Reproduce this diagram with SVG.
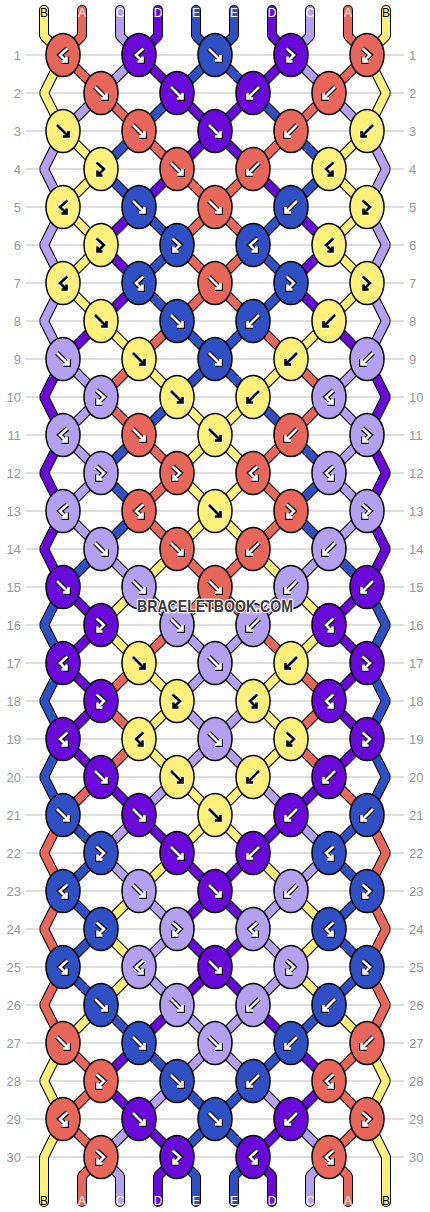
<svg xmlns="http://www.w3.org/2000/svg" xmlns:xlink="http://www.w3.org/1999/xlink" width="430" height="1212" viewBox="0 0 430 1212">
<style>
.gl{stroke:#bdbdbd;stroke-width:1}
.rl{font-family:"Liberation Sans",Arial,sans-serif;font-size:13px;fill:#999}
.so{fill:none;stroke:#000;stroke-width:10;stroke-linejoin:bevel;stroke-linecap:round}
.si{fill:none;stroke-width:8;stroke-linejoin:bevel;stroke-linecap:round}
.sy{stroke:#FFF07A}.sr{stroke:#E8665A}.sl{stroke:#B4A0F0}.sv{stroke:#6A08DC}.sb{stroke:#2E50C4}
ellipse{stroke:#000;stroke-width:1.5}
.fy{fill:#FFF07A}.fr{fill:#E8665A}.fl{fill:#B4A0F0}.fv{fill:#6A08DC}.fb{fill:#2E50C4}
.ao{fill:none;stroke:#000;stroke-width:5;stroke-linejoin:miter}
.ai{fill:none;stroke:#fff;stroke-width:2.6;stroke-linejoin:miter}
.yo{fill:none;stroke:#fff;stroke-width:4.6;stroke-linejoin:miter}
.yi{fill:none;stroke:#000;stroke-width:2.6;stroke-linejoin:miter}
.el{font-family:"Liberation Sans",Arial,sans-serif;font-size:12px;text-anchor:middle;fill:#fff}
.wm{font-family:"Liberation Sans",Arial,sans-serif;font-weight:bold;font-size:17px;fill:#3a3a3a;stroke:#fff;stroke-width:2.5;paint-order:stroke;text-anchor:middle}
</style>
<defs>
<path id="gF" d="M-6,-6 L5.5,5.5 M0,5.5 H5.5 V0"/>
<path id="gB" d="M6,-6 L-5.5,5.5 M0,5.5 H-5.5 V0"/>
<path id="gFB" d="M-4.5,-6.5 L3,0 L-3.5,6.5 M-3.5,1.5 V6.5 H1.5"/>
<path id="gBF" d="M4.5,-6.5 L-3,0 L3.5,6.5 M3.5,1.5 V6.5 H-1.5"/>
<g id="aF"><use href="#gF" class="ao"/><use href="#gF" class="ai"/></g>
<g id="aB"><use href="#gB" class="ao"/><use href="#gB" class="ai"/></g>
<g id="aFB"><use href="#gFB" class="ao"/><use href="#gFB" class="ai"/></g>
<g id="aBF"><use href="#gBF" class="ao"/><use href="#gBF" class="ai"/></g>
<g id="yF"><use href="#gF" class="yo"/><use href="#gF" class="yi"/></g>
<g id="yB"><use href="#gB" class="yo"/><use href="#gB" class="yi"/></g>
<g id="yFB"><use href="#gFB" class="yo"/><use href="#gFB" class="yi"/></g>
<g id="yBF"><use href="#gBF" class="yo"/><use href="#gBF" class="yi"/></g>
<polyline id="p0" points="44,10 44,36 63,55 44,93 63,131 101,169 63,207 101,245 63,283 101,321 139,359 177,397 215,435 177,473 215,511 177,549 139,587 101,625 139,663 177,701 139,739 177,777 215,815 177,853 139,891 101,929 139,967 101,1005 63,1043 44,1081 63,1119 44,1157 44,1176 44,1202"/>
<polyline id="p9" points="386,10 386,36 367,55 386,93 367,131 329,169 367,207 329,245 367,283 329,321 291,359 253,397 215,435 253,473 215,511 253,549 291,587 329,625 291,663 253,701 291,739 253,777 215,815 253,853 291,891 329,929 291,967 329,1005 367,1043 386,1081 367,1119 386,1157 386,1176 386,1202"/>
<polyline id="p1" points="82,10 82,36 63,55 101,93 139,131 177,169 215,207 177,245 215,283 177,321 139,359 101,397 139,435 177,473 139,511 177,549 215,587 177,625 139,663 101,701 139,739 101,777 63,815 44,853 63,891 44,929 63,967 44,1005 63,1043 101,1081 63,1119 101,1157 82,1176 82,1202"/>
<polyline id="p8" points="348,10 348,36 367,55 329,93 291,131 253,169 215,207 253,245 215,283 253,321 291,359 329,397 291,435 253,473 291,511 253,549 215,587 253,625 291,663 329,701 291,739 329,777 367,815 386,853 367,891 386,929 367,967 386,1005 367,1043 329,1081 367,1119 329,1157 348,1176 348,1202"/>
<polyline id="p2" points="120,10 120,36 139,55 101,93 63,131 44,169 63,207 44,245 63,283 44,321 63,359 101,397 63,435 101,473 63,511 101,549 139,587 177,625 215,663 177,701 215,739 177,777 139,815 101,853 139,891 177,929 139,967 177,1005 215,1043 177,1081 139,1119 101,1157 120,1176 120,1202"/>
<polyline id="p7" points="310,10 310,36 291,55 329,93 367,131 386,169 367,207 386,245 367,283 386,321 367,359 329,397 367,435 329,473 367,511 329,549 291,587 253,625 215,663 253,701 215,739 253,777 291,815 329,853 291,891 253,929 291,967 253,1005 215,1043 253,1081 291,1119 329,1157 310,1176 310,1202"/>
<polyline id="p3" points="158,10 158,36 139,55 177,93 215,131 177,169 139,207 101,245 139,283 101,321 63,359 44,397 63,435 44,473 63,511 44,549 63,587 101,625 63,663 101,701 63,739 101,777 139,815 177,853 215,891 177,929 215,967 177,1005 139,1043 101,1081 139,1119 177,1157 158,1176 158,1202"/>
<polyline id="p6" points="272,10 272,36 291,55 253,93 215,131 253,169 291,207 329,245 291,283 329,321 367,359 386,397 367,435 386,473 367,511 386,549 367,587 329,625 367,663 329,701 367,739 329,777 291,815 253,853 215,891 253,929 215,967 253,1005 291,1043 329,1081 291,1119 253,1157 272,1176 272,1202"/>
<polyline id="p4" points="196,10 196,36 215,55 177,93 139,131 101,169 139,207 177,245 139,283 177,321 215,359 177,397 139,435 101,473 139,511 101,549 63,587 44,625 63,663 44,701 63,739 44,777 63,815 101,853 63,891 101,929 63,967 101,1005 139,1043 177,1081 215,1119 177,1157 196,1176 196,1202"/>
<polyline id="p5" points="234,10 234,36 215,55 253,93 291,131 329,169 291,207 253,245 291,283 253,321 215,359 253,397 291,435 329,473 291,511 329,549 367,587 386,625 367,663 386,701 367,739 386,777 367,815 329,853 367,891 329,929 367,967 329,1005 291,1043 253,1081 215,1119 253,1157 234,1176 234,1202"/>
</defs>
<rect width="430" height="1212" fill="#fff"/>
<g id="grid">
<line class="gl" x1="26" y1="55" x2="404" y2="55"/><line class="gl" x1="26" y1="93" x2="404" y2="93"/><line class="gl" x1="26" y1="131" x2="404" y2="131"/><line class="gl" x1="26" y1="169" x2="404" y2="169"/><line class="gl" x1="26" y1="207" x2="404" y2="207"/><line class="gl" x1="26" y1="245" x2="404" y2="245"/><line class="gl" x1="26" y1="283" x2="404" y2="283"/><line class="gl" x1="26" y1="321" x2="404" y2="321"/><line class="gl" x1="26" y1="359" x2="404" y2="359"/><line class="gl" x1="26" y1="397" x2="404" y2="397"/><line class="gl" x1="26" y1="435" x2="404" y2="435"/><line class="gl" x1="26" y1="473" x2="404" y2="473"/><line class="gl" x1="26" y1="511" x2="404" y2="511"/><line class="gl" x1="26" y1="549" x2="404" y2="549"/><line class="gl" x1="26" y1="587" x2="404" y2="587"/><line class="gl" x1="26" y1="625" x2="404" y2="625"/><line class="gl" x1="26" y1="663" x2="404" y2="663"/><line class="gl" x1="26" y1="701" x2="404" y2="701"/><line class="gl" x1="26" y1="739" x2="404" y2="739"/><line class="gl" x1="26" y1="777" x2="404" y2="777"/><line class="gl" x1="26" y1="815" x2="404" y2="815"/><line class="gl" x1="26" y1="853" x2="404" y2="853"/><line class="gl" x1="26" y1="891" x2="404" y2="891"/><line class="gl" x1="26" y1="929" x2="404" y2="929"/><line class="gl" x1="26" y1="967" x2="404" y2="967"/><line class="gl" x1="26" y1="1005" x2="404" y2="1005"/><line class="gl" x1="26" y1="1043" x2="404" y2="1043"/><line class="gl" x1="26" y1="1081" x2="404" y2="1081"/><line class="gl" x1="26" y1="1119" x2="404" y2="1119"/><line class="gl" x1="26" y1="1157" x2="404" y2="1157"/>
</g>
<g id="row-labels" class="rl">
<g text-anchor="end">
<text x="21" y="59.5">1</text><text x="21" y="97.5">2</text><text x="21" y="135.5">3</text><text x="21" y="173.5">4</text><text x="21" y="211.5">5</text><text x="21" y="249.5">6</text><text x="21" y="287.5">7</text><text x="21" y="325.5">8</text><text x="21" y="363.5">9</text><text x="21" y="401.5">10</text><text x="21" y="439.5">11</text><text x="21" y="477.5">12</text><text x="21" y="515.5">13</text><text x="21" y="553.5">14</text><text x="21" y="591.5">15</text><text x="21" y="629.5">16</text><text x="21" y="667.5">17</text><text x="21" y="705.5">18</text><text x="21" y="743.5">19</text><text x="21" y="781.5">20</text><text x="21" y="819.5">21</text><text x="21" y="857.5">22</text><text x="21" y="895.5">23</text><text x="21" y="933.5">24</text><text x="21" y="971.5">25</text><text x="21" y="1009.5">26</text><text x="21" y="1047.5">27</text><text x="21" y="1085.5">28</text><text x="21" y="1123.5">29</text><text x="21" y="1161.5">30</text>
</g>
<g text-anchor="start">
<text x="409" y="59.5">1</text><text x="409" y="97.5">2</text><text x="409" y="135.5">3</text><text x="409" y="173.5">4</text><text x="409" y="211.5">5</text><text x="409" y="249.5">6</text><text x="409" y="287.5">7</text><text x="409" y="325.5">8</text><text x="409" y="363.5">9</text><text x="409" y="401.5">10</text><text x="409" y="439.5">11</text><text x="409" y="477.5">12</text><text x="409" y="515.5">13</text><text x="409" y="553.5">14</text><text x="409" y="591.5">15</text><text x="409" y="629.5">16</text><text x="409" y="667.5">17</text><text x="409" y="705.5">18</text><text x="409" y="743.5">19</text><text x="409" y="781.5">20</text><text x="409" y="819.5">21</text><text x="409" y="857.5">22</text><text x="409" y="895.5">23</text><text x="409" y="933.5">24</text><text x="409" y="971.5">25</text><text x="409" y="1009.5">26</text><text x="409" y="1047.5">27</text><text x="409" y="1085.5">28</text><text x="409" y="1123.5">29</text><text x="409" y="1161.5">30</text>
</g>
</g>
<g id="connectors">
<use href="#p0" class="so"/><use href="#p0" class="si sy"/>
<use href="#p9" class="so"/><use href="#p9" class="si sy"/>
<use href="#p1" class="so"/><use href="#p1" class="si sr"/>
<use href="#p8" class="so"/><use href="#p8" class="si sr"/>
<use href="#p2" class="so"/><use href="#p2" class="si sl"/>
<use href="#p7" class="so"/><use href="#p7" class="si sl"/>
<use href="#p3" class="so"/><use href="#p3" class="si sv"/>
<use href="#p6" class="so"/><use href="#p6" class="si sv"/>
<use href="#p4" class="so"/><use href="#p4" class="si sb"/>
<use href="#p5" class="so"/><use href="#p5" class="si sb"/>
</g>
<g id="string-labels" class="el">
<text x="44" y="17" fill="#000" style="fill:#000">B</text><text x="82" y="17">A</text><text x="120" y="17">C</text><text x="158" y="17">D</text><text x="196" y="17">E</text><text x="234" y="17">E</text><text x="272" y="17">D</text><text x="310" y="17">C</text><text x="348" y="17">A</text><text x="386" y="17" style="fill:#000">B</text>
<text x="44" y="1205" style="fill:#000">B</text><text x="82" y="1205">A</text><text x="120" y="1205">C</text><text x="158" y="1205">D</text><text x="196" y="1205">E</text><text x="234" y="1205">E</text><text x="272" y="1205">D</text><text x="310" y="1205">C</text><text x="348" y="1205">A</text><text x="386" y="1205" style="fill:#000">B</text>
</g>
<g id="knots">
<g id="k1-1" transform="translate(63,55)"><ellipse class="fr" rx="17" ry="21.5"/><use href="#aBF"/></g>
<g id="k1-2" transform="translate(139,55)"><ellipse class="fv" rx="17" ry="21.5"/><use href="#aBF"/></g>
<g id="k1-3" transform="translate(215,55)"><ellipse class="fb" rx="17" ry="21.5"/><use href="#aF"/></g>
<g id="k1-4" transform="translate(291,55)"><ellipse class="fv" rx="17" ry="21.5"/><use href="#aFB"/></g>
<g id="k1-5" transform="translate(367,55)"><ellipse class="fr" rx="17" ry="21.5"/><use href="#aFB"/></g>
<g id="k2-1" transform="translate(101,93)"><ellipse class="fr" rx="17" ry="21.5"/><use href="#aF"/></g>
<g id="k2-2" transform="translate(177,93)"><ellipse class="fv" rx="17" ry="21.5"/><use href="#aF"/></g>
<g id="k2-3" transform="translate(253,93)"><ellipse class="fv" rx="17" ry="21.5"/><use href="#aB"/></g>
<g id="k2-4" transform="translate(329,93)"><ellipse class="fr" rx="17" ry="21.5"/><use href="#aB"/></g>
<g id="k3-1" transform="translate(63,131)"><ellipse class="fy" rx="17" ry="21.5"/><use href="#yF"/></g>
<g id="k3-2" transform="translate(139,131)"><ellipse class="fr" rx="17" ry="21.5"/><use href="#aF"/></g>
<g id="k3-3" transform="translate(215,131)"><ellipse class="fv" rx="17" ry="21.5"/><use href="#aF"/></g>
<g id="k3-4" transform="translate(291,131)"><ellipse class="fr" rx="17" ry="21.5"/><use href="#aB"/></g>
<g id="k3-5" transform="translate(367,131)"><ellipse class="fy" rx="17" ry="21.5"/><use href="#yB"/></g>
<g id="k4-1" transform="translate(101,169)"><ellipse class="fy" rx="17" ry="21.5"/><use href="#yFB"/></g>
<g id="k4-2" transform="translate(177,169)"><ellipse class="fr" rx="17" ry="21.5"/><use href="#aF"/></g>
<g id="k4-3" transform="translate(253,169)"><ellipse class="fr" rx="17" ry="21.5"/><use href="#aB"/></g>
<g id="k4-4" transform="translate(329,169)"><ellipse class="fy" rx="17" ry="21.5"/><use href="#yBF"/></g>
<g id="k5-1" transform="translate(63,207)"><ellipse class="fy" rx="17" ry="21.5"/><use href="#yBF"/></g>
<g id="k5-2" transform="translate(139,207)"><ellipse class="fb" rx="17" ry="21.5"/><use href="#aF"/></g>
<g id="k5-3" transform="translate(215,207)"><ellipse class="fr" rx="17" ry="21.5"/><use href="#aF"/></g>
<g id="k5-4" transform="translate(291,207)"><ellipse class="fb" rx="17" ry="21.5"/><use href="#aB"/></g>
<g id="k5-5" transform="translate(367,207)"><ellipse class="fy" rx="17" ry="21.5"/><use href="#yFB"/></g>
<g id="k6-1" transform="translate(101,245)"><ellipse class="fy" rx="17" ry="21.5"/><use href="#yFB"/></g>
<g id="k6-2" transform="translate(177,245)"><ellipse class="fb" rx="17" ry="21.5"/><use href="#aFB"/></g>
<g id="k6-3" transform="translate(253,245)"><ellipse class="fb" rx="17" ry="21.5"/><use href="#aBF"/></g>
<g id="k6-4" transform="translate(329,245)"><ellipse class="fy" rx="17" ry="21.5"/><use href="#yBF"/></g>
<g id="k7-1" transform="translate(63,283)"><ellipse class="fy" rx="17" ry="21.5"/><use href="#yBF"/></g>
<g id="k7-2" transform="translate(139,283)"><ellipse class="fb" rx="17" ry="21.5"/><use href="#aBF"/></g>
<g id="k7-3" transform="translate(215,283)"><ellipse class="fr" rx="17" ry="21.5"/><use href="#aF"/></g>
<g id="k7-4" transform="translate(291,283)"><ellipse class="fb" rx="17" ry="21.5"/><use href="#aFB"/></g>
<g id="k7-5" transform="translate(367,283)"><ellipse class="fy" rx="17" ry="21.5"/><use href="#yFB"/></g>
<g id="k8-1" transform="translate(101,321)"><ellipse class="fy" rx="17" ry="21.5"/><use href="#yF"/></g>
<g id="k8-2" transform="translate(177,321)"><ellipse class="fb" rx="17" ry="21.5"/><use href="#aF"/></g>
<g id="k8-3" transform="translate(253,321)"><ellipse class="fb" rx="17" ry="21.5"/><use href="#aB"/></g>
<g id="k8-4" transform="translate(329,321)"><ellipse class="fy" rx="17" ry="21.5"/><use href="#yB"/></g>
<g id="k9-1" transform="translate(63,359)"><ellipse class="fl" rx="17" ry="21.5"/><use href="#aF"/></g>
<g id="k9-2" transform="translate(139,359)"><ellipse class="fy" rx="17" ry="21.5"/><use href="#yF"/></g>
<g id="k9-3" transform="translate(215,359)"><ellipse class="fb" rx="17" ry="21.5"/><use href="#aF"/></g>
<g id="k9-4" transform="translate(291,359)"><ellipse class="fy" rx="17" ry="21.5"/><use href="#yB"/></g>
<g id="k9-5" transform="translate(367,359)"><ellipse class="fl" rx="17" ry="21.5"/><use href="#aB"/></g>
<g id="k10-1" transform="translate(101,397)"><ellipse class="fl" rx="17" ry="21.5"/><use href="#aFB"/></g>
<g id="k10-2" transform="translate(177,397)"><ellipse class="fy" rx="17" ry="21.5"/><use href="#yF"/></g>
<g id="k10-3" transform="translate(253,397)"><ellipse class="fy" rx="17" ry="21.5"/><use href="#yB"/></g>
<g id="k10-4" transform="translate(329,397)"><ellipse class="fl" rx="17" ry="21.5"/><use href="#aBF"/></g>
<g id="k11-1" transform="translate(63,435)"><ellipse class="fl" rx="17" ry="21.5"/><use href="#aBF"/></g>
<g id="k11-2" transform="translate(139,435)"><ellipse class="fr" rx="17" ry="21.5"/><use href="#aF"/></g>
<g id="k11-3" transform="translate(215,435)"><ellipse class="fy" rx="17" ry="21.5"/><use href="#yF"/></g>
<g id="k11-4" transform="translate(291,435)"><ellipse class="fr" rx="17" ry="21.5"/><use href="#aB"/></g>
<g id="k11-5" transform="translate(367,435)"><ellipse class="fl" rx="17" ry="21.5"/><use href="#aFB"/></g>
<g id="k12-1" transform="translate(101,473)"><ellipse class="fl" rx="17" ry="21.5"/><use href="#aFB"/></g>
<g id="k12-2" transform="translate(177,473)"><ellipse class="fr" rx="17" ry="21.5"/><use href="#aFB"/></g>
<g id="k12-3" transform="translate(253,473)"><ellipse class="fr" rx="17" ry="21.5"/><use href="#aBF"/></g>
<g id="k12-4" transform="translate(329,473)"><ellipse class="fl" rx="17" ry="21.5"/><use href="#aBF"/></g>
<g id="k13-1" transform="translate(63,511)"><ellipse class="fl" rx="17" ry="21.5"/><use href="#aBF"/></g>
<g id="k13-2" transform="translate(139,511)"><ellipse class="fr" rx="17" ry="21.5"/><use href="#aBF"/></g>
<g id="k13-3" transform="translate(215,511)"><ellipse class="fy" rx="17" ry="21.5"/><use href="#yF"/></g>
<g id="k13-4" transform="translate(291,511)"><ellipse class="fr" rx="17" ry="21.5"/><use href="#aFB"/></g>
<g id="k13-5" transform="translate(367,511)"><ellipse class="fl" rx="17" ry="21.5"/><use href="#aFB"/></g>
<g id="k14-1" transform="translate(101,549)"><ellipse class="fl" rx="17" ry="21.5"/><use href="#aF"/></g>
<g id="k14-2" transform="translate(177,549)"><ellipse class="fr" rx="17" ry="21.5"/><use href="#aF"/></g>
<g id="k14-3" transform="translate(253,549)"><ellipse class="fr" rx="17" ry="21.5"/><use href="#aB"/></g>
<g id="k14-4" transform="translate(329,549)"><ellipse class="fl" rx="17" ry="21.5"/><use href="#aB"/></g>
<g id="k15-1" transform="translate(63,587)"><ellipse class="fv" rx="17" ry="21.5"/><use href="#aF"/></g>
<g id="k15-2" transform="translate(139,587)"><ellipse class="fl" rx="17" ry="21.5"/><use href="#aF"/></g>
<g id="k15-3" transform="translate(215,587)"><ellipse class="fr" rx="17" ry="21.5"/><use href="#aF"/></g>
<g id="k15-4" transform="translate(291,587)"><ellipse class="fl" rx="17" ry="21.5"/><use href="#aB"/></g>
<g id="k15-5" transform="translate(367,587)"><ellipse class="fv" rx="17" ry="21.5"/><use href="#aB"/></g>
<g id="k16-1" transform="translate(101,625)"><ellipse class="fv" rx="17" ry="21.5"/><use href="#aFB"/></g>
<g id="k16-2" transform="translate(177,625)"><ellipse class="fl" rx="17" ry="21.5"/><use href="#aF"/></g>
<g id="k16-3" transform="translate(253,625)"><ellipse class="fl" rx="17" ry="21.5"/><use href="#aB"/></g>
<g id="k16-4" transform="translate(329,625)"><ellipse class="fv" rx="17" ry="21.5"/><use href="#aBF"/></g>
<g id="k17-1" transform="translate(63,663)"><ellipse class="fv" rx="17" ry="21.5"/><use href="#aBF"/></g>
<g id="k17-2" transform="translate(139,663)"><ellipse class="fy" rx="17" ry="21.5"/><use href="#yF"/></g>
<g id="k17-3" transform="translate(215,663)"><ellipse class="fl" rx="17" ry="21.5"/><use href="#aF"/></g>
<g id="k17-4" transform="translate(291,663)"><ellipse class="fy" rx="17" ry="21.5"/><use href="#yB"/></g>
<g id="k17-5" transform="translate(367,663)"><ellipse class="fv" rx="17" ry="21.5"/><use href="#aFB"/></g>
<g id="k18-1" transform="translate(101,701)"><ellipse class="fv" rx="17" ry="21.5"/><use href="#aFB"/></g>
<g id="k18-2" transform="translate(177,701)"><ellipse class="fy" rx="17" ry="21.5"/><use href="#yFB"/></g>
<g id="k18-3" transform="translate(253,701)"><ellipse class="fy" rx="17" ry="21.5"/><use href="#yBF"/></g>
<g id="k18-4" transform="translate(329,701)"><ellipse class="fv" rx="17" ry="21.5"/><use href="#aBF"/></g>
<g id="k19-1" transform="translate(63,739)"><ellipse class="fv" rx="17" ry="21.5"/><use href="#aBF"/></g>
<g id="k19-2" transform="translate(139,739)"><ellipse class="fy" rx="17" ry="21.5"/><use href="#yBF"/></g>
<g id="k19-3" transform="translate(215,739)"><ellipse class="fl" rx="17" ry="21.5"/><use href="#aF"/></g>
<g id="k19-4" transform="translate(291,739)"><ellipse class="fy" rx="17" ry="21.5"/><use href="#yFB"/></g>
<g id="k19-5" transform="translate(367,739)"><ellipse class="fv" rx="17" ry="21.5"/><use href="#aFB"/></g>
<g id="k20-1" transform="translate(101,777)"><ellipse class="fv" rx="17" ry="21.5"/><use href="#aF"/></g>
<g id="k20-2" transform="translate(177,777)"><ellipse class="fy" rx="17" ry="21.5"/><use href="#yF"/></g>
<g id="k20-3" transform="translate(253,777)"><ellipse class="fy" rx="17" ry="21.5"/><use href="#yB"/></g>
<g id="k20-4" transform="translate(329,777)"><ellipse class="fv" rx="17" ry="21.5"/><use href="#aB"/></g>
<g id="k21-1" transform="translate(63,815)"><ellipse class="fb" rx="17" ry="21.5"/><use href="#aF"/></g>
<g id="k21-2" transform="translate(139,815)"><ellipse class="fv" rx="17" ry="21.5"/><use href="#aF"/></g>
<g id="k21-3" transform="translate(215,815)"><ellipse class="fy" rx="17" ry="21.5"/><use href="#yF"/></g>
<g id="k21-4" transform="translate(291,815)"><ellipse class="fv" rx="17" ry="21.5"/><use href="#aB"/></g>
<g id="k21-5" transform="translate(367,815)"><ellipse class="fb" rx="17" ry="21.5"/><use href="#aB"/></g>
<g id="k22-1" transform="translate(101,853)"><ellipse class="fb" rx="17" ry="21.5"/><use href="#aFB"/></g>
<g id="k22-2" transform="translate(177,853)"><ellipse class="fv" rx="17" ry="21.5"/><use href="#aF"/></g>
<g id="k22-3" transform="translate(253,853)"><ellipse class="fv" rx="17" ry="21.5"/><use href="#aB"/></g>
<g id="k22-4" transform="translate(329,853)"><ellipse class="fb" rx="17" ry="21.5"/><use href="#aBF"/></g>
<g id="k23-1" transform="translate(63,891)"><ellipse class="fb" rx="17" ry="21.5"/><use href="#aBF"/></g>
<g id="k23-2" transform="translate(139,891)"><ellipse class="fl" rx="17" ry="21.5"/><use href="#aF"/></g>
<g id="k23-3" transform="translate(215,891)"><ellipse class="fv" rx="17" ry="21.5"/><use href="#aF"/></g>
<g id="k23-4" transform="translate(291,891)"><ellipse class="fl" rx="17" ry="21.5"/><use href="#aB"/></g>
<g id="k23-5" transform="translate(367,891)"><ellipse class="fb" rx="17" ry="21.5"/><use href="#aFB"/></g>
<g id="k24-1" transform="translate(101,929)"><ellipse class="fb" rx="17" ry="21.5"/><use href="#aFB"/></g>
<g id="k24-2" transform="translate(177,929)"><ellipse class="fl" rx="17" ry="21.5"/><use href="#aFB"/></g>
<g id="k24-3" transform="translate(253,929)"><ellipse class="fl" rx="17" ry="21.5"/><use href="#aBF"/></g>
<g id="k24-4" transform="translate(329,929)"><ellipse class="fb" rx="17" ry="21.5"/><use href="#aBF"/></g>
<g id="k25-1" transform="translate(63,967)"><ellipse class="fb" rx="17" ry="21.5"/><use href="#aBF"/></g>
<g id="k25-2" transform="translate(139,967)"><ellipse class="fl" rx="17" ry="21.5"/><use href="#aBF"/></g>
<g id="k25-3" transform="translate(215,967)"><ellipse class="fv" rx="17" ry="21.5"/><use href="#aF"/></g>
<g id="k25-4" transform="translate(291,967)"><ellipse class="fl" rx="17" ry="21.5"/><use href="#aFB"/></g>
<g id="k25-5" transform="translate(367,967)"><ellipse class="fb" rx="17" ry="21.5"/><use href="#aFB"/></g>
<g id="k26-1" transform="translate(101,1005)"><ellipse class="fb" rx="17" ry="21.5"/><use href="#aF"/></g>
<g id="k26-2" transform="translate(177,1005)"><ellipse class="fl" rx="17" ry="21.5"/><use href="#aF"/></g>
<g id="k26-3" transform="translate(253,1005)"><ellipse class="fl" rx="17" ry="21.5"/><use href="#aB"/></g>
<g id="k26-4" transform="translate(329,1005)"><ellipse class="fb" rx="17" ry="21.5"/><use href="#aB"/></g>
<g id="k27-1" transform="translate(63,1043)"><ellipse class="fr" rx="17" ry="21.5"/><use href="#aF"/></g>
<g id="k27-2" transform="translate(139,1043)"><ellipse class="fb" rx="17" ry="21.5"/><use href="#aF"/></g>
<g id="k27-3" transform="translate(215,1043)"><ellipse class="fl" rx="17" ry="21.5"/><use href="#aF"/></g>
<g id="k27-4" transform="translate(291,1043)"><ellipse class="fb" rx="17" ry="21.5"/><use href="#aB"/></g>
<g id="k27-5" transform="translate(367,1043)"><ellipse class="fr" rx="17" ry="21.5"/><use href="#aB"/></g>
<g id="k28-1" transform="translate(101,1081)"><ellipse class="fr" rx="17" ry="21.5"/><use href="#aFB"/></g>
<g id="k28-2" transform="translate(177,1081)"><ellipse class="fb" rx="17" ry="21.5"/><use href="#aF"/></g>
<g id="k28-3" transform="translate(253,1081)"><ellipse class="fb" rx="17" ry="21.5"/><use href="#aB"/></g>
<g id="k28-4" transform="translate(329,1081)"><ellipse class="fr" rx="17" ry="21.5"/><use href="#aBF"/></g>
<g id="k29-1" transform="translate(63,1119)"><ellipse class="fr" rx="17" ry="21.5"/><use href="#aBF"/></g>
<g id="k29-2" transform="translate(139,1119)"><ellipse class="fv" rx="17" ry="21.5"/><use href="#aF"/></g>
<g id="k29-3" transform="translate(215,1119)"><ellipse class="fb" rx="17" ry="21.5"/><use href="#aF"/></g>
<g id="k29-4" transform="translate(291,1119)"><ellipse class="fv" rx="17" ry="21.5"/><use href="#aB"/></g>
<g id="k29-5" transform="translate(367,1119)"><ellipse class="fr" rx="17" ry="21.5"/><use href="#aFB"/></g>
<g id="k30-1" transform="translate(101,1157)"><ellipse class="fr" rx="17" ry="21.5"/><use href="#aFB"/></g>
<g id="k30-2" transform="translate(177,1157)"><ellipse class="fv" rx="17" ry="21.5"/><use href="#aFB"/></g>
<g id="k30-3" transform="translate(253,1157)"><ellipse class="fv" rx="17" ry="21.5"/><use href="#aBF"/></g>
<g id="k30-4" transform="translate(329,1157)"><ellipse class="fr" rx="17" ry="21.5"/><use href="#aBF"/></g>
</g>
<text id="watermark" class="wm" x="215" y="612" textLength="156" lengthAdjust="spacingAndGlyphs">BRACELETBOOK.COM</text>
</svg>
